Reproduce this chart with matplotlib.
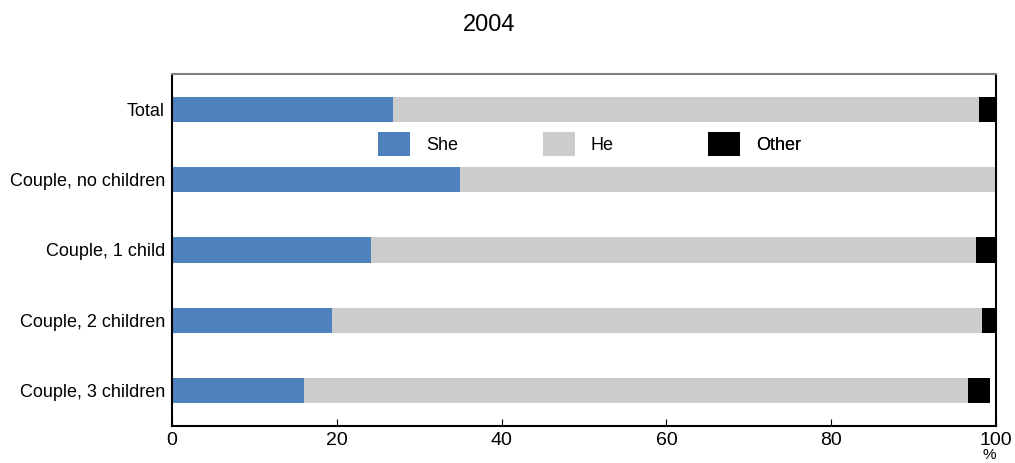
import matplotlib.pyplot as plt

plt.rcParams['font.family'] = ['Liberation Sans', 'DejaVu Sans']

categories = ["Total", "Couple, no children", "Couple, 1 child",
              "Couple, 2 children", "Couple, 3 children"]
she = [26.8, 35.0, 24.2, 19.4, 16.0]
he = [71.1, 65.0, 73.4, 78.9, 80.6]
other = [2.1, 0.0, 2.4, 1.7, 2.7]

fig = plt.figure(figsize=(10.15, 4.63), dpi=100)
ax = fig.add_axes([172/1015, 1-426/463, 824/1015, 352/463])

y = range(len(categories))
left_he = [s for s in she]
left_other = [s + h for s, h in zip(she, he)]
b1 = ax.barh(y, she, height=0.36, color='#4f81bd', label='She')
b2 = ax.barh(y, he, left=left_he, height=0.36, color='#cccccc', label='He')
b3 = ax.barh(y, other, left=left_other, height=0.36, color='black', label='Other')

ax.set_ylim(4.5, -0.5)
ax.set_xlim(0, 100)
ax.set_yticks(list(y))
ax.set_yticklabels(categories, fontsize=13)
ax.tick_params(axis='y', length=0, pad=5)
ax.set_xticks([0, 20, 40, 60, 80, 100])
ax.tick_params(axis='x', direction='in', length=5, labelsize=14, pad=4)
for s in ['left', 'right', 'bottom']:
    ax.spines[s].set_linewidth(1.5)
    ax.spines[s].set_color('black')
ax.spines['top'].set_color('#808080')
ax.spines['top'].set_linewidth(1.5)

# one legend per entry so the entries sit at equal spacing
ly = 1 - (144 - 74) / 352
for bar, name, px in zip([b1, b2, b3], ['She', 'He', 'Other'], [378, 543, 708]):
    leg = ax.legend([bar], [name], loc='center left',
                    bbox_to_anchor=((px - 172) / 824, ly), frameon=False,
                    fontsize=13, handlelength=1.75, handleheight=1.75,
                    handletextpad=0.9, borderpad=0, borderaxespad=0)
    ax.add_artist(leg)

fig.text(489/1015, 1-25/463, "2004", ha='center', va='center', fontsize=17)
fig.text(989/1015, 1-455/463, "%", ha='center', va='center', fontsize=11)

plt.savefig("out.png")
